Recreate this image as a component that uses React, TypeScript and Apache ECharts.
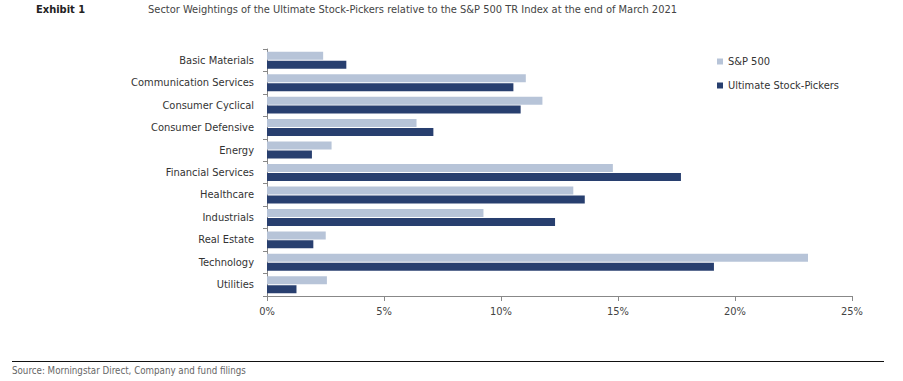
import React, { useEffect, useRef } from "react";
import * as echarts from "echarts";

const categories = [
  "Basic Materials",
  "Communication Services",
  "Consumer Cyclical",
  "Consumer Defensive",
  "Energy",
  "Financial Services",
  "Healthcare",
  "Industrials",
  "Real Estate",
  "Technology",
  "Utilities",
];
const sp500 = [2.4, 11.06, 11.77, 6.39, 2.76, 14.78, 13.09, 9.25, 2.51, 23.12, 2.56];
const stockPickers = [3.39, 10.53, 10.84, 7.11, 1.92, 17.69, 13.58, 12.31, 1.98, 19.1, 1.26];
const xTicks = [0, 5, 10, 15, 20, 25];

const FONT = "'Liberation Sans Narrow', 'DejaVu Sans Condensed', 'Arial Narrow', sans-serif";

export default function App() {
  const ref = useRef<HTMLDivElement>(null);
  useEffect(() => {
    if (!ref.current) return;
    const chart = echarts.init(ref.current, undefined, { renderer: "svg" });
    chart.setOption({
      animation: false,
      textStyle: { fontFamily: FONT },
      graphic: [
        {
          type: "text",
          left: 36,
          top: 4,
          style: { text: "Exhibit 1", font: `bold 11px ${FONT}`, fill: "#222" },
        },
        {
          type: "text",
          left: 148,
          top: 4,
          style: {
            text: "Sector Weightings of the Ultimate Stock-Pickers relative to the S&P 500 TR Index at the end of March 2021",
            font: `11px ${FONT}`,
            fill: "#444",
          },
        },
        {
          type: "line",
          shape: { x1: 12, y1: 361.5, x2: 884, y2: 361.5 },
          style: { stroke: "#111", lineWidth: 1 },
        },
        {
          type: "text",
          left: 12,
          top: 365,
          style: { text: "Source: Morningstar Direct, Company and fund filings", font: `9.7px ${FONT}`, fill: "#666" },
        },
      ],
      legend: {
        orient: "vertical",
        left: 712,
        top: 51,
        itemWidth: 6,
        itemHeight: 6,
        itemGap: 13,
        icon: "rect",
        textStyle: { fontFamily: FONT, fontSize: 11, color: "#333" },
        data: ["S&P 500", "Ultimate Stock-Pickers"],
      },
      grid: { left: 267, right: 51, top: 49, bottom: 85, containLabel: false },
      xAxis: {
        type: "value",
        min: 0,
        max: 25,
        interval: 5,
        axisLine: { show: true, lineStyle: { color: "#888", width: 1 } },
        axisTick: { show: true, length: 5, lineStyle: { color: "#888" } },
        splitLine: { show: false },
        axisLabel: {
          margin: 10,
          fontFamily: FONT,
          fontSize: 11,
          color: "#444",
          formatter: (v: number) => (xTicks.includes(v) ? `${v}%` : ""),
        },
      },
      yAxis: {
        type: "category",
        data: categories,
        inverse: true,
        axisLine: { show: true, lineStyle: { color: "#888", width: 1 } },
        axisTick: { show: true, length: 4, lineStyle: { color: "#888" } },
        axisLabel: { margin: 13, fontFamily: FONT, fontSize: 11, color: "#333" },
      },
      series: [
        {
          name: "S&P 500",
          type: "bar",
          data: sp500,
          barWidth: 8,
          barGap: "12%",
          itemStyle: { color: "#b7c4d8" },
        },
        {
          name: "Ultimate Stock-Pickers",
          type: "bar",
          data: stockPickers,
          barWidth: 8,
          barGap: "12%",
          itemStyle: { color: "#283f6f" },
        },
      ],
    });
    return () => chart.dispose();
  }, []);
  return <div ref={ref} style={{ width: 903, height: 381, position: "absolute", left: 0, top: 0 }} />;
}
